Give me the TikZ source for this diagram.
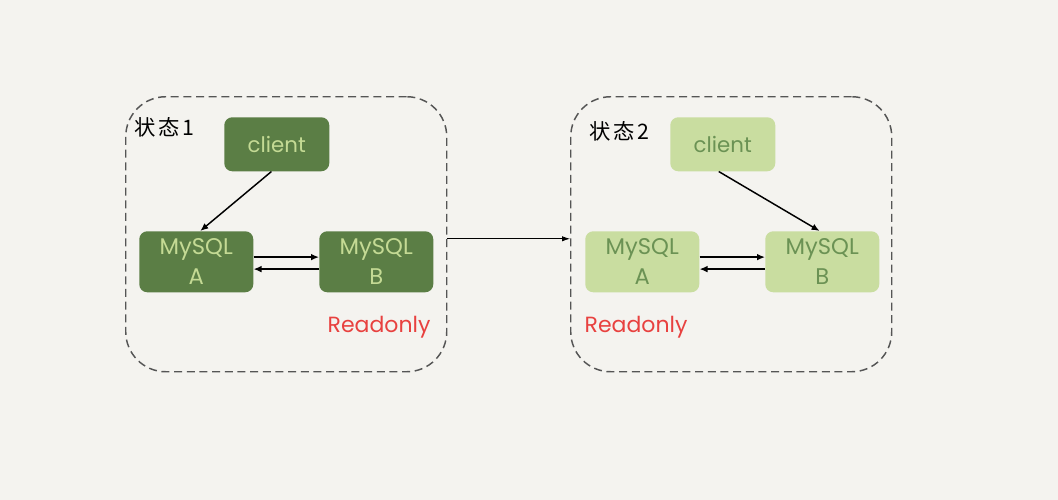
\documentclass[tikz,border=0pt]{standalone}
\usepackage{fontspec}
\setmainfont{Poppins}
\newfontfamily\cjk{Noto Sans CJK SC}
\usetikzlibrary{arrows.meta}
\definecolor{bg}{HTML}{F4F3EF}
\definecolor{dkgreen}{HTML}{5B7E45}
\definecolor{dktext}{HTML}{C4DA94}
\definecolor{ltgreen}{HTML}{C9DDA0}
\definecolor{lttext}{HTML}{6B9254}
\definecolor{ro}{HTML}{E8413F}
\definecolor{dash}{HTML}{555555}
\tikzset{
  frame/.style={draw=dash, line width=1.1pt, dash pattern=on 6pt off 3.5pt, rounded corners=30pt},
  boxbase/.style={rounded corners=6pt, align=center, inner sep=0pt, font=\fontsize{17}{22.5}\selectfont},
  dkbox/.style={boxbase, fill=dkgreen, text=dktext},
  ltbox/.style={boxbase, fill=ltgreen, text=lttext},
  conn/.style={draw=black, line width=1.1pt, -{Latex[length=6pt,width=5pt]}},
  thin/.style={draw=black, line width=0.6pt, -{Latex[length=6pt,width=4pt]}},
  lbl/.style={font=\cjk\fontsize{16}{18}\selectfont, text=black, anchor=west},
  rolbl/.style={text=ro, font=\fontsize{16.5}{18}\selectfont, anchor=west}
}
\begin{document}
\begin{tikzpicture}[x=0.75pt,y=-0.75pt]
\fill[bg] (0,0) rectangle (1058,500);
\useasboundingbox (0,0) rectangle (1058,500);
% frames
\node[frame, minimum width=321*0.75pt, minimum height=275*0.75pt, anchor=north west] (f1) at (125,96) {};
\node[frame, minimum width=321*0.75pt, minimum height=275*0.75pt, anchor=north west] (f2) at (570,96) {};
% state 1
\node[lbl] (s1) at (130,127) {状\kern2pt态\kern2pt1};
\node[dkbox, minimum width=105*0.75pt, minimum height=54*0.75pt, anchor=north west, font=\fontsize{16}{18}\selectfont] (c1) at (224,117) {client};
\node[dkbox, minimum width=114*0.75pt, minimum height=61*0.75pt, anchor=north west] (a1) at (139,231) {MySQL\\A};
\node[dkbox, minimum width=114*0.75pt, minimum height=61*0.75pt, anchor=north west] (b1) at (319,231) {MySQL\\B};
\node[rolbl] (r1) at (323,327) {Readonly};
\draw[conn] ([xshift=-4pt]c1.south) -- ([xshift=3pt]a1.north);
\draw[conn] ([yshift=3.5pt]a1.east) -- ([yshift=3.5pt]b1.east -| b1.west);
\draw[conn] ([yshift=-5.5pt]b1.west) -- ([yshift=-5.5pt]b1.west -| a1.east);
% state 2
\node[lbl] (s2) at (585,131) {状\kern2pt态\kern2pt2};
\node[ltbox, minimum width=105*0.75pt, minimum height=54*0.75pt, anchor=north west, font=\fontsize{16}{18}\selectfont] (c2) at (670,117) {client};
\node[ltbox, minimum width=114*0.75pt, minimum height=61*0.75pt, anchor=north west] (a2) at (585,231) {MySQL\\A};
\node[ltbox, minimum width=114*0.75pt, minimum height=61*0.75pt, anchor=north west] (b2) at (765,231) {MySQL\\B};
\node[rolbl] (r2) at (580,327) {Readonly};
\draw[conn] ([xshift=-3pt]c2.south) -- ([xshift=-2pt]b2.north);
\draw[conn] ([yshift=3.5pt]a2.east) -- ([yshift=3.5pt]b2.east -| b2.west);
\draw[conn] ([yshift=-5.5pt]b2.west) -- ([yshift=-5.5pt]b2.west -| a2.east);
% transition
\draw[thin] ([yshift=-3.4pt]f1.east) -- ([yshift=-3.4pt]f1.east -| f2.west);
\end{tikzpicture}
\end{document}
